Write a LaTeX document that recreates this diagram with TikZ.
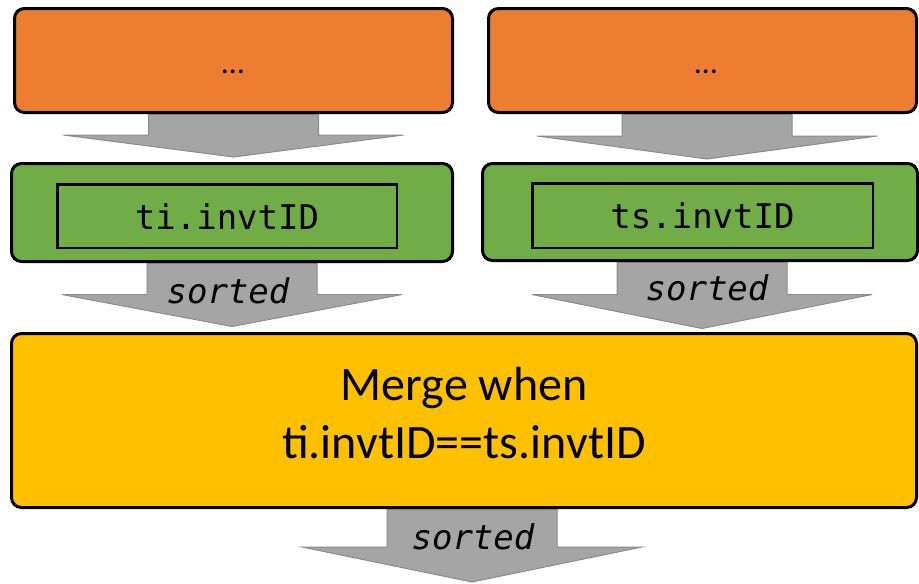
\documentclass[tikz,border=0pt]{standalone}
\usepackage{fontspec}
\setmainfont{Carlito}
\newfontfamily\codefont{DejaVu Sans Mono}
\usepackage{tikz}
\usetikzlibrary{calc, backgrounds}

\definecolor{boxorange}{HTML}{ED7D31}
\definecolor{boxgreen}{HTML}{70AD47}
\definecolor{boxgold}{HTML}{FFC000}
\definecolor{arrowgray}{HTML}{A5A5A5}
\definecolor{arrowedge}{HTML}{8C8C8C}

% fat block arrow: from node, to point, head height, x offset
\newcommand{\fatarrow}[4]{%
  \draw[fatarrow] let \p1=(#1.south), \p2=(#2) in
    (\x1+#4-\shaftHalf,\y1) -- (\x1+#4+\shaftHalf,\y1) -- (\x1+#4+\shaftHalf,\y2+#3)
    -- (\x1+#4+\headHalf,\y2+#3) -- (\x1+#4,\y2) -- (\x1+#4-\headHalf,\y2+#3)
    -- (\x1+#4-\shaftHalf,\y2+#3) -- cycle;
}

\begin{document}
\begin{tikzpicture}[x=1pt, y=-1pt,
    box/.style={draw=black, line width=3pt, rounded corners=10pt},
    topbox/.style={box, fill=boxorange},
    midbox/.style={box, fill=boxgreen},
    mergebox/.style={box, fill=boxgold},
    keybox/.style={draw=black, line width=2.5pt, fill=boxgreen,
        font=\codefont\fontsize{34}{40}\selectfont, text height=26pt, text depth=0pt},
    sortlabel/.style={anchor=base, font=\codefont\itshape\fontsize{34}{40}\selectfont},
    fatarrow/.style={fill=arrowgray, draw=arrowedge, line width=1pt}]

    % Define parameters
    \def\shaftHalf{85pt}   % half width of the arrow shaft
    \def\headHalf{170pt}   % half width of the arrow head

    \useasboundingbox (0,0) rectangle (919,584);

    % Draw top boxes
    \node[topbox, minimum width=438pt, minimum height=104pt] (topL) at (233.5,60.5) {};
    \node[topbox, minimum width=428pt, minimum height=104pt] (topR) at (702.5,60.5) {};
    \node[anchor=base, font=\fontsize{32}{38}\selectfont] (dotsL) at (233,73) {…};
    \node[anchor=base, font=\fontsize{32}{38}\selectfont] (dotsR) at (706,73) {…};

    % Draw key boxes
    \node[midbox, minimum width=441pt, minimum height=98pt] (midL) at (232,212.5) {};
    \node[midbox, minimum width=435pt, minimum height=97pt] (midR) at (700,212) {};
    \node[keybox, minimum width=339.5pt, minimum height=63.5pt] (keyL) at (227,216) {ti.invtID};
    \node[keybox, minimum width=340.5pt, minimum height=64.5pt] (keyR) at (702.5,215.5) {ts.invtID};

    % Draw merge box
    \node[mergebox, minimum width=905pt, minimum height=174pt] (merge) at (464,420.5) {};
    \node[align=center, font=\fontsize{48}{58}\selectfont] (mergetext) at (464,413)
        {Merge when\\ti.invtID==ts.invtID};
    \coordinate (out) at (472,582);

    % Draw arrows behind the boxes
    \begin{scope}[on background layer]
        \fatarrow{topL}{[yshift=5pt]midL.north}{22pt}{0pt}
        \fatarrow{topR}{[yshift=3pt]midR.north}{23pt}{4.5pt}
        \fatarrow{midL}{[yshift=5.5pt]merge.north}{32pt}{0pt}
        \fatarrow{midR}{[yshift=3.5pt]merge.north}{34pt}{2pt}
        \fatarrow{merge}{out}{35pt}{8pt}
    \end{scope}

    % Draw labels on the arrows
    \node[sortlabel] (sortL) at (228,303) {sorted};
    \node[sortlabel] (sortR) at (707,300) {sorted};
    \node[sortlabel] (sortM) at (473,549) {sorted};
\end{tikzpicture}
\end{document}
